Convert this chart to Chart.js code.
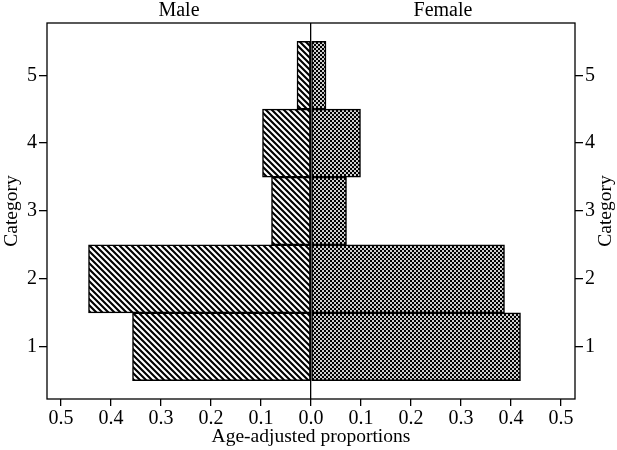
<!DOCTYPE html>
<html>
<head>
<meta charset="utf-8">
<script src="https://cdn.jsdelivr.net/npm/chart.js@4.4.0/dist/chart.umd.min.js"></script>
<style>
    html, body { margin: 0; padding: 0; background: #fff; }
    #wrap { width: 617px; height: 450px; }
</style>
</head>
<body>
<div id="wrap"><canvas id="pyramid" width="617" height="450"></canvas></div>
<script>
// Data
const categories = [1, 2, 3, 4, 5];
const maleValues = [0.357, 0.445, 0.079, 0.097, 0.028];
const femaleValues = [0.419, 0.387, 0.071, 0.099, 0.030];
const xTickValues = [-0.5, -0.4, -0.3, -0.2, -0.1, 0, 0.1, 0.2, 0.3, 0.4, 0.5];
const groupLabels = ['Male', 'Female'];
const axisTitleX = 'Age-adjusted proportions';
const axisTitleY = 'Category';

const FONT = '"Liberation Serif", "DejaVu Serif", serif';
const FONT_SIZE = 20;

// Diagonal stripes for the male bars (top-left to bottom-right)
function stripePattern() {
    const c = document.createElement('canvas');
    c.width = 6; c.height = 6;
    const g = c.getContext('2d');
    g.fillStyle = '#fff';
    g.fillRect(0, 0, 6, 6);
    g.strokeStyle = '#000';
    g.lineWidth = 2.1;
    g.beginPath();
    [-6, 0, 6].forEach(function(s) {
        g.moveTo(s - 2, -2);
        g.lineTo(s + 8, 8);
    });
    g.stroke();
    return g.createPattern(c, 'repeat');
}

// Fine checker / cross-hatch for the female bars
function checkerPattern() {
    const c = document.createElement('canvas');
    c.width = 4; c.height = 4;
    const g = c.getContext('2d');
    g.fillStyle = '#000';
    g.fillRect(0, 0, 4, 4);
    g.fillStyle = '#fff';
    g.fillRect(0.1, 0.1, 1.8, 1.8);
    g.fillRect(2.1, 2.1, 1.8, 1.8);
    return g.createPattern(c, 'repeat');
}

// Box round the plot, the group labels and the axis titles
const framePlugin = {
    id: 'frame',
    afterDraw(chart) {
        const ctx = chart.ctx;
        const a = chart.chartArea;
        ctx.save();
        ctx.strokeStyle = '#000';
        ctx.lineWidth = 1.3;
        ctx.strokeRect(a.left, a.top, a.right - a.left, a.bottom - a.top);

        ctx.fillStyle = '#000';
        ctx.font = FONT_SIZE + 'px ' + FONT;
        ctx.textAlign = 'center';
        ctx.textBaseline = 'middle';
        const zero = chart.scales.x.getPixelForValue(0);
        ctx.fillText(groupLabels[0], (a.left + zero) / 2, 11);
        ctx.fillText(groupLabels[1], (zero + a.right) / 2, 11);
        ctx.font = (FONT_SIZE - 0.5) + 'px ' + FONT;
        ctx.fillText(axisTitleX, zero, 437);

        const midY = (a.top + a.bottom) / 2;
        [12, 606].forEach(function(x) {
            ctx.save();
            ctx.translate(x, midY);
            ctx.rotate(-Math.PI / 2);
            ctx.fillText(axisTitleY, 0, 0);
            ctx.restore();
        });
        ctx.restore();
    }
};

function categoryTicks(scale) {
    scale.ticks = categories.map(v => ({ value: v }));
}

const yAxisCommon = {
    type: 'linear',
    min: 0.23,
    max: 5.77,
    offset: false,
    afterBuildTicks: categoryTicks,
    grid: { offset: false, drawOnChartArea: false, color: '#000', tickLength: 8, lineWidth: 1.3 },
    border: { display: false },
    ticks: { color: '#000', padding: 2, font: { family: FONT, size: FONT_SIZE } }
};

new Chart(document.getElementById('pyramid'), {
    type: 'bar',
    data: {
        datasets: [
            {
                label: groupLabels[0],
                data: categories.map((c, i) => ({ x: -maleValues[i], y: c })),
                backgroundColor: stripePattern(),
                borderColor: '#000',
                borderWidth: 1.5,
                borderSkipped: false,
                grouped: false,
                barPercentage: 1,
                categoryPercentage: 1
            },
            {
                label: groupLabels[1],
                data: categories.map((c, i) => ({ x: femaleValues[i], y: c })),
                backgroundColor: checkerPattern(),
                borderColor: '#000',
                borderWidth: 1.5,
                borderSkipped: false,
                grouped: false,
                barPercentage: 1,
                categoryPercentage: 1
            }
        ]
    },
    options: {
        indexAxis: 'y',
        responsive: false,
        animation: false,
        devicePixelRatio: 1,
        layout: { padding: { top: 23, left: 0, right: 0, bottom: 0 } },
        plugins: {
            legend: { display: false },
            tooltip: { enabled: false }
        },
        scales: {
            x: {
                type: 'linear',
                min: -0.528,
                max: 0.528,
                afterBuildTicks: function(scale) {
                    scale.ticks = xTickValues.map(v => ({ value: v }));
                },
                afterFit: function(scale) { scale.height = 51; },
                grid: {
                    color: ctx => (ctx.tick && ctx.tick.value === 0) ? '#000' : 'rgba(0,0,0,0)',
                    tickColor: '#000',
                    tickLength: 7,
                    lineWidth: 1.3
                },
                border: { display: false },
                ticks: {
                    color: '#000',
                    padding: 1,
                    maxRotation: 0,
                    font: { family: FONT, size: FONT_SIZE },
                    callback: v => Math.abs(v).toFixed(1)
                }
            },
            y: Object.assign({}, yAxisCommon, {
                position: 'left',
                afterFit: function(scale) { scale.width = 47; }
            }),
            y2: Object.assign({}, yAxisCommon, {
                position: 'right',
                afterFit: function(scale) { scale.width = 42; }
            })
        }
    },
    plugins: [framePlugin]
});
</script>
</body>
</html>
